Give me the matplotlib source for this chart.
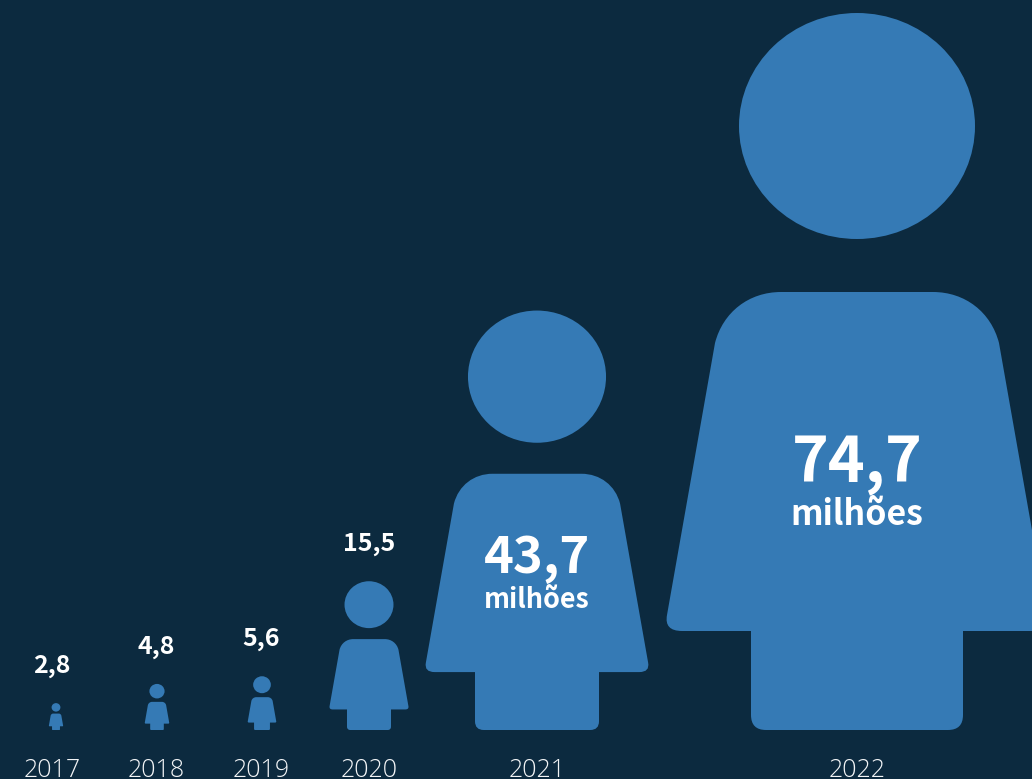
# -*- coding: utf-8 -*-
import numpy as np
import matplotlib
matplotlib.use("Agg")
import matplotlib.pyplot as plt
from matplotlib.path import Path
from matplotlib.patches import PathPatch, Ellipse

years = ["2017", "2018", "2019", "2020", "2021", "2022"]
values = [2.8, 4.8, 5.6, 15.5, 43.7, 74.7]
labels = ["2,8", "4,8", "5,6", "15,5", "43,7", "74,7"]
unit_label = "milhões"

BG = "#0c2a3f"
BLUE = "#357ab5"
W, H = 1032, 779
BASE = 730          # pixel row of the feet
TALL = 717.0        # pixel height of the tallest person
PX = values[-1] / TALL   # data units per pixel

# centres of the figures and of their labels, in pixels from the left
centres = [56, 157, 262, 369, 537, 857]
label_x = [52, 156.5, 261.5, 369, 537, 857]


def person_body():
    # right half of body, in pixels of a figure 717 tall, from the foot up to the top
    half = [
        (Path.MOVETO, (0, 0)),
        (Path.LINETO, (91, 0)),
        (Path.CURVE3, (106, 0)), (Path.CURVE3, (106, 15)),
        (Path.LINETO, (106, 99)),
        (Path.LINETO, (175, 99)),
        (Path.CURVE3, (193, 99)), (Path.CURVE3, (190, 115)),
        (Path.LINETO, (142, 387)),
        (Path.CURVE4, (134, 418)), (Path.CURVE4, (108, 438)), (Path.CURVE4, (76, 438)),
        (Path.LINETO, (0, 438)),
    ]
    codes = [c for c, _ in half]
    pts = [p for _, p in half]
    # left half is the mirror image, walked backwards
    rev_codes = codes[1:][::-1]
    rev_pts = [(-x, y) for x, y in pts[:-1][::-1]]
    verts = np.array(pts + rev_pts + [(0, 0)], dtype=float) / TALL
    return verts, codes + rev_codes + [Path.CLOSEPOLY]


body_verts, body_codes = person_body()

fig = plt.figure(figsize=(W / 100, H / 100), dpi=100, facecolor=BG)
ax = fig.add_axes([0, 0, 1, 1])
ax.set_xlim(0, W * PX)
ax.set_ylim(-(H - BASE) * PX, BASE * PX)
ax.axis("off")

num_font = "Noto Sans CJK SC"
year_font = "Open Sans"

for year, value, label, cx_px, lx in zip(years, values, labels, centres, label_x):
    cx = cx_px * PX
    verts = body_verts * value + [cx, 0]
    ax.add_patch(PathPatch(Path(verts, body_codes), fc=BLUE, ec="none"))
    # head is a touch wider than tall
    ax.add_patch(Ellipse((cx, value * 604 / TALL), value * 236 / TALL, value * 226 / TALL,
                         fc=BLUE, ec="none"))
    ax.text(lx * PX, -47 * PX, year, color="#f2f4f6", ha="center", va="baseline",
            fontsize=18, family=year_font, fontweight="light")
    if value < 20:
        ax.annotate(label, (lx * PX, value), xytext=(0, 22), textcoords="offset points",
                    color="white", ha="center", va="baseline",
                    fontsize=18, family=num_font, fontweight="bold")

# the two big figures carry their label inside the body
ax.text(centres[4] * PX, (BASE - 573) * PX, labels[4], color="white", ha="center", va="baseline",
        fontsize=36.5, family=num_font, fontweight="bold")
ax.text(centres[4] * PX, (BASE - 607.5) * PX, unit_label, color="white", ha="center", va="baseline",
        fontsize=19.4, family=num_font, fontweight="bold")
ax.text(centres[5] * PX, (BASE - 482) * PX, labels[5], color="white", ha="center", va="baseline",
        fontsize=45, family=num_font, fontweight="bold")
ax.text(centres[5] * PX, (BASE - 525) * PX, unit_label, color="white", ha="center", va="baseline",
        fontsize=24.4, family=num_font, fontweight="bold")

fig.savefig("out.png", dpi=100, facecolor=BG)
